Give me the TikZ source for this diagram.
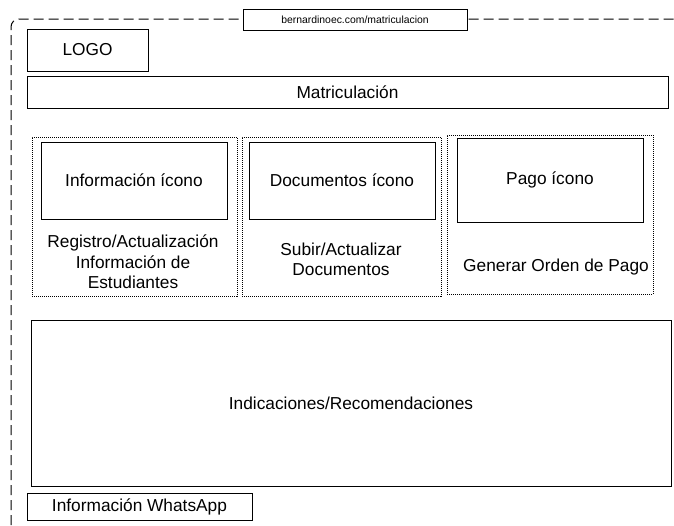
\documentclass[tikz,border=0pt]{standalone}
\usepackage{fontspec}
\setmainfont{Liberation Sans}
\begin{document}
\begin{tikzpicture}[x=1pt,y=-1pt,
  box/.style={draw, line width=1pt, fill=white, inner sep=0pt, outer sep=0pt, font=\fontsize{17.3}{20}\selectfont},
  grp/.style={draw, line width=0.9pt, dash pattern=on 1pt off 1pt, inner sep=0pt, outer sep=0pt},
  lbl/.style={align=center, inner sep=0pt, font=\fontsize{17.3}{20.5}\selectfont},
  frame/.style={draw, line width=1pt, dash pattern=on 10pt off 5pt, rounded corners=8pt}]
\useasboundingbox (0,0) rectangle (674,525);
\coordinate (fb) at (11,525);
\coordinate (fc) at (11,19);
\coordinate (fr) at (674,19);
\draw[frame] (fb) -- (fc) -- (fr);
\node[box, minimum width=224pt, minimum height=21pt, font=\fontsize{10.4}{12}\selectfont] (url) at (355,19.5) {bernardinoec.com/matriculacion};
\node[box, minimum width=121pt, minimum height=42pt] (logo) at (87.5,50) {LOGO};
\node[box, minimum width=641pt, minimum height=32pt] (mat) at (347.5,92) {Matriculación};
\node[grp, minimum width=205pt, minimum height=159pt] (g1) at (134.5,216.5) {};
\node[grp, minimum width=199pt, minimum height=159pt] (g2) at (341.5,216.5) {};
\node[grp, minimum width=206pt, minimum height=159pt] (g3) at (550,214.5) {};
\node[box, minimum width=186pt, minimum height=77pt] (i1) at (134,180.5) {Información ícono};
\node[box, minimum width=186pt, minimum height=77pt] (i2) at (342,180.5) {Documentos ícono};
\node[box, minimum width=186pt, minimum height=84pt] (i3) at (550,180) {Pago ícono};
\node[lbl] (l1) at (133,262) {Registro/Actualización\\Información de\\Estudiantes};
\node[lbl] (l2) at (341,259.5) {Subir/Actualizar\\Documentos};
\node[lbl] (l3) at (556,267) {Generar Orden de Pago};
\node[box, minimum width=640pt, minimum height=166pt] (ind) at (351,403) {Indicaciones/Recomendaciones};
\node[box, minimum width=225pt, minimum height=27pt] (wa) at (139.5,506.5) {Información WhatsApp};
\end{tikzpicture}
\end{document}
